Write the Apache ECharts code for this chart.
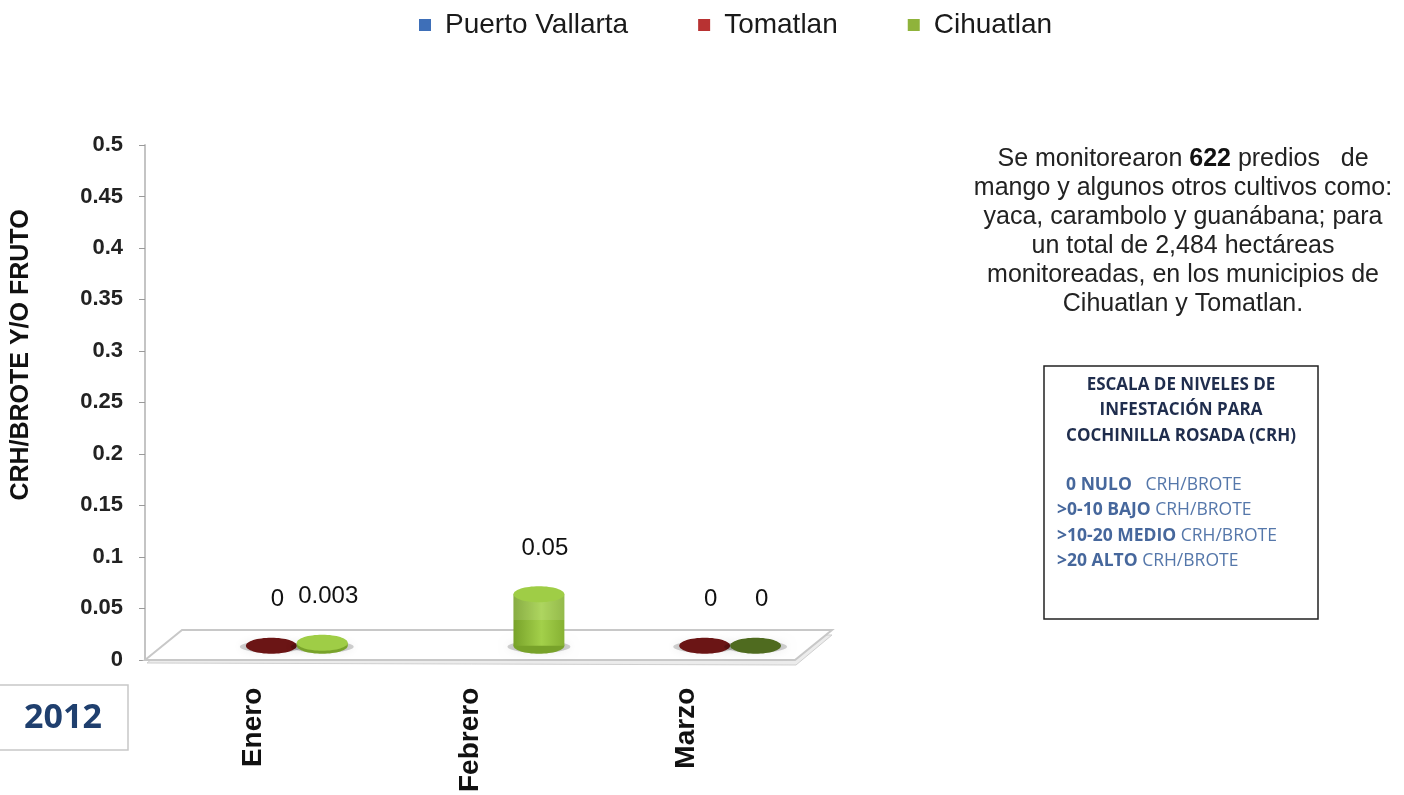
<!DOCTYPE html>
<html>
<head>
<meta charset="utf-8">
<script src="https://cdn.jsdelivr.net/npm/echarts@6/dist/echarts.min.js"></script>
<style>
  html, body { margin: 0; padding: 0; background: #fff; }
  #main { width: 1404px; height: 795px; }
</style>
</head>
<body>
<div id="main"></div>
<script>
// datos
var meses = ['Enero', 'Febrero', 'Marzo'];
var puertoVallarta = [null, null, null];
var tomatlan = [0, null, 0];
var cihuatlan = [0.003, 0.05, 0];
var yMax = 0.5;
var yPaso = 0.05;

// geometria de la grafica
var L = 145, T = 145, W = 650, H = 515;
var B = T + H, R = L + W;
var FONDO_X = 37, FONDO_Y = -30;   // profundidad del piso
var DX = 18, DY = -14;             // desplazamiento de las barras

var colores = {
  'Puerto Vallarta': { leyenda: '#3e6fb8', lado: ['#35609f', '#5b8ad0', '#3e6fb8'], tapa: '#6f9ad8', plano: '#2f568f' },
  'Tomatlan': { leyenda: '#b83232', lado: ['#8e2222', '#c24848', '#9c2a2a'], tapa: '#c75a5a', plano: '#6b1515' },
  'Cihuatlan': { leyenda: '#8fb33b', lado: ['#78a22a', '#a3d04a', '#86b133'], tapa: '#9fcd46', plano: '#8dbd38' }
};
var planoCeroVerde = '#4f6b1f';

function cilindro(params, api) {
  var v = api.value(1);
  var base = api.coord([api.value(0), 0]);
  var tope = api.coord([api.value(0), v]);
  var banda = api.size([1, 0])[0];
  var w = banda * 0.235;
  var rx = w / 2, ry = 8;
  var cx = base[0] + (params.seriesIndex - 1) * w + DX;
  var yb = base[1] + DY, yt = tope[1] + DY;
  var c = colores[params.seriesName];
  var hijos = [];
  hijos.push({ type: 'ellipse', shape: { cx: cx, cy: yb + 1, rx: rx + 6, ry: ry - 2 },
    style: { fill: 'rgba(0,0,0,0.18)', shadowBlur: 10, shadowColor: 'rgba(0,0,0,0.4)' } });
  if (v === 0) {
    var plano = c.plano;
    if (params.seriesName === 'Cihuatlan' && params.dataIndex > 0) plano = planoCeroVerde;
    hijos.push({ type: 'ellipse', shape: { cx: cx, cy: yb, rx: rx, ry: ry }, style: { fill: plano } });
  } else {
    var lado = new echarts.graphic.LinearGradient(0, 0, 1, 0, [
      { offset: 0, color: c.lado[0] }, { offset: 0.55, color: c.lado[1] }, { offset: 1, color: c.lado[2] }
    ]);
    hijos.push({ type: 'ellipse', shape: { cx: cx, cy: yb, rx: rx, ry: ry }, style: { fill: c.lado[0] } });
    hijos.push({ type: 'rect', shape: { x: cx - rx, y: yt, width: w, height: yb - yt }, style: { fill: lado } });
    if (yb - yt > 20) {
      hijos.push({ type: 'rect', shape: { x: cx - rx, y: yt, width: w, height: (yb - yt) / 2 },
        style: { fill: 'rgba(255,255,255,0.12)' } });
    }
    hijos.push({ type: 'ellipse', shape: { cx: cx, cy: yt, rx: rx, ry: ry }, style: { fill: c.tapa } });
  }
  hijos.push({ type: 'text', style: { text: String(v), x: cx + 6, y: yt - 46, align: 'center', verticalAlign: 'middle',
    font: '24px "Liberation Sans", Arial, sans-serif', fill: '#111' } });
  return { type: 'group', children: hijos };
}

function serie(nombre, valores) {
  var datos = valores.map(function (v, i) { return [i, v]; }).filter(function (d) { return d[1] != null; });
  return {
    name: nombre,
    type: 'custom',
    renderItem: cilindro,
    itemStyle: { color: colores[nombre].leyenda },
    data: datos,
    z: 3
  };
}

var chart = echarts.init(document.getElementById('main'));

var option = {
  animation: false,
  legend: {
    top: 6,
    left: 414,
    icon: 'rect',
    itemWidth: 12,
    itemHeight: 12,
    itemGap: 70,
    textStyle: { fontSize: 28, color: '#1a1a1a', padding: [0, 0, 0, 9],
      fontFamily: '"Liberation Sans", Arial, sans-serif' },
    data: ['Puerto Vallarta', 'Tomatlan', 'Cihuatlan']
  },
  grid: { left: L, top: T, width: W, height: H },
  xAxis: {
    type: 'category',
    data: meses,
    axisLine: { lineStyle: { color: '#c4c4c4', width: 2 } },
    axisTick: { length: 11, lineStyle: { color: '#9a9a9a' } },
    axisLabel: { rotate: 90, margin: 28, fontSize: 28, fontWeight: 'bold', color: '#111',
      fontFamily: '"Liberation Sans", Arial, sans-serif' }
  },
  yAxis: {
    type: 'value',
    min: 0,
    max: yMax,
    interval: yPaso,
    splitLine: { show: false },
    axisLine: { show: true, lineStyle: { color: '#c4c4c4', width: 2 } },
    axisTick: { show: true, length: 6, lineStyle: { color: '#9a9a9a' } },
    axisLabel: { margin: 22, fontSize: 22, fontWeight: 'bold', color: '#222',
      fontFamily: '"Liberation Sans", Arial, sans-serif' }
  },
  graphic: [
    // piso
    { type: 'polygon', z: 1, shape: { points: [[L + 2, B + 3], [L + FONDO_X + 2, B + FONDO_Y + 3], [R + FONDO_X, B + FONDO_Y + 5], [R + 1, B + 5]] },
      style: { fill: '#ececec', stroke: '#cfcfcf', lineWidth: 1 } },
    { type: 'polygon', z: 2, shape: { points: [[L, B], [L + FONDO_X, B + FONDO_Y], [R + FONDO_X, B + FONDO_Y], [R, B]] },
      style: { fill: '#ffffff', stroke: '#c8c8c8', lineWidth: 2 } },
    // titulo del eje
    { type: 'text', x: 21, y: 355, rotation: Math.PI / 2,
      style: { text: 'CRH/BROTE Y/O FRUTO', align: 'center', verticalAlign: 'middle',
        font: 'bold 25px "Liberation Sans", Arial, sans-serif', fill: '#111' } },
    // texto descriptivo
    { type: 'text', x: 1183, y: 145,
      style: {
        text: 'Se monitorearon {b|622} predios   de\nmango y algunos otros cultivos como:\nyaca, carambolo y guanábana; para\nun total de 2,484 hectáreas\nmonitoreadas, en los municipios de\nCihuatlan y Tomatlan.',
        align: 'center', verticalAlign: 'top', lineHeight: 29,
        font: '25px "Liberation Sans", Arial, sans-serif', fill: '#222',
        rich: { b: { fontWeight: 'bold', fontSize: 25, fill: '#111', fontFamily: '"Liberation Sans", Arial, sans-serif' } }
      } },
    // recuadro de escala
    { type: 'rect', shape: { x: 1044, y: 366, width: 274, height: 253 },
      style: { fill: '#fff', stroke: '#222', lineWidth: 1.5 } },
    { type: 'text', x: 1181, y: 372,
      style: { text: 'ESCALA DE NIVELES DE\nINFESTACIÓN PARA\nCOCHINILLA ROSADA (CRH)', align: 'center', verticalAlign: 'top',
        lineHeight: 25.5, font: 'bold 17px "Open Sans", sans-serif', fill: '#1f2d4d' } },
    { type: 'text', x: 1057, y: 472,
      style: {
        text: '  {b|0 NULO}   CRH/BROTE\n{b|>0-10 BAJO} CRH/BROTE\n{b|>10-20 MEDIO} CRH/BROTE\n{b|>20 ALTO} CRH/BROTE',
        align: 'left', verticalAlign: 'top', lineHeight: 25.5,
        font: '17.5px "Open Sans", sans-serif', fill: '#5577aa',
        rich: { b: { fontWeight: 'bold', fontSize: 17.5, fill: '#46679c', fontFamily: '"Open Sans", sans-serif' } }
      } },
    // recuadro del año
    { type: 'rect', shape: { x: -2, y: 685, width: 130, height: 65 },
      style: { fill: '#fff', stroke: '#c8c8c8', lineWidth: 1.5 } },
    { type: 'text', x: 63, y: 718,
      style: { text: '2012', align: 'center', verticalAlign: 'middle',
        font: 'bold 34px "Open Sans", sans-serif', fill: '#1f3f6e' } }
  ],
  series: [
    serie('Puerto Vallarta', puertoVallarta),
    serie('Tomatlan', tomatlan),
    serie('Cihuatlan', cihuatlan)
  ]
};

chart.setOption(option);
</script>
</body>
</html>
